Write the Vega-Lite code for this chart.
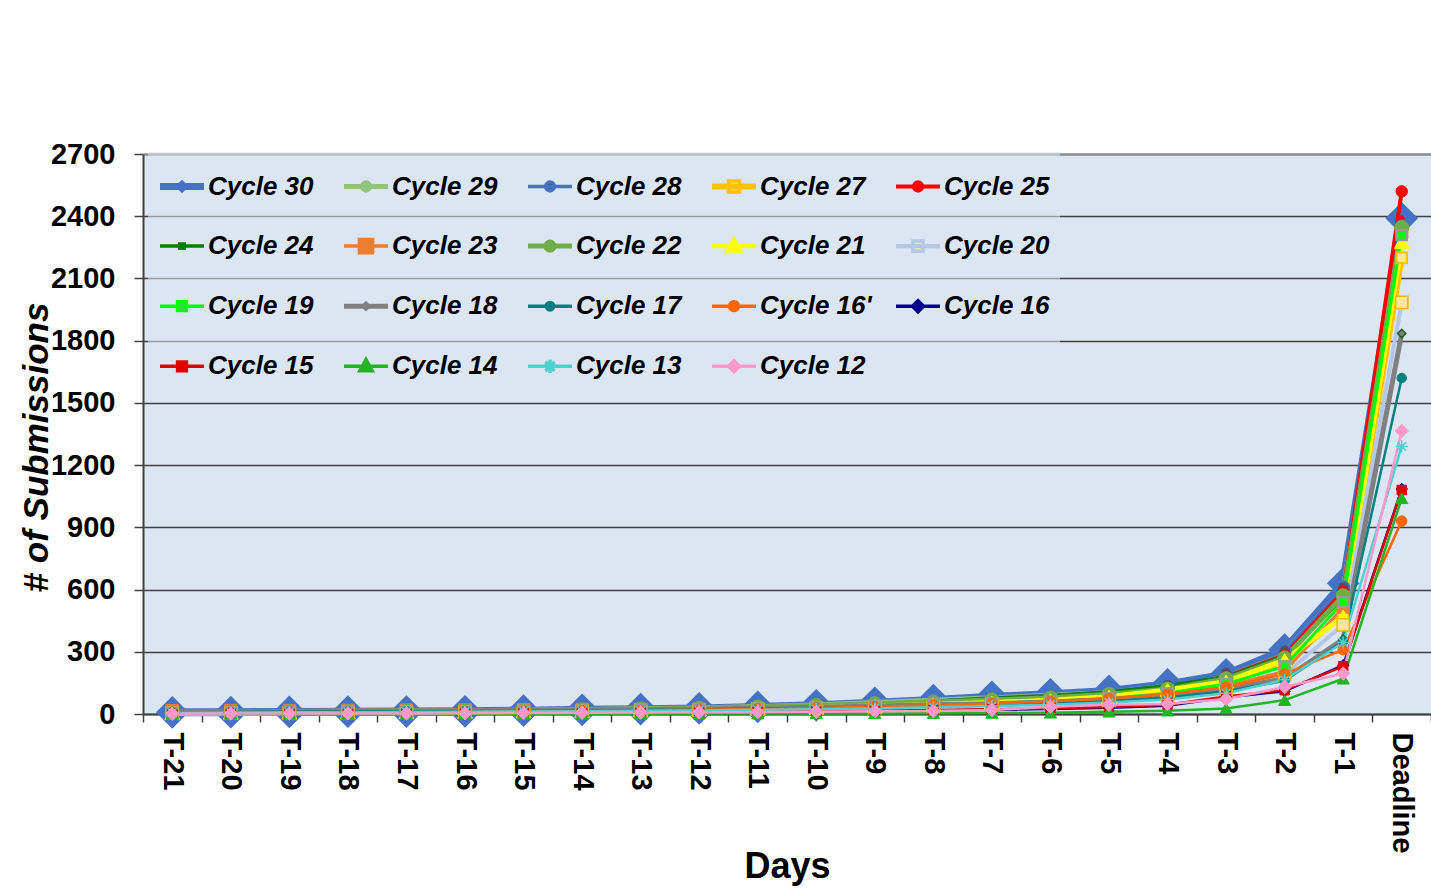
{
  "$schema": "https://vega.github.io/schema/vega-lite/v6.json",
  "width": 1288,
  "height": 560,
  "autosize": {"type": "none"},
  "padding": {"left": 143, "top": 154, "right": 0, "bottom": 176},
  "background": "white",
  "config": {
    "view": {"fill": "#DCE6F2", "stroke": null},
    "font": "Liberation Sans"
  },
  "data": {"values": [
    {"s":"Cycle 30","t":-21,"v":8},{"s":"Cycle 30","t":-20,"v":9},{"s":"Cycle 30","t":-19,"v":10},{"s":"Cycle 30","t":-18,"v":11},{"s":"Cycle 30","t":-17,"v":12},{"s":"Cycle 30","t":-16,"v":13},{"s":"Cycle 30","t":-15,"v":16},{"s":"Cycle 30","t":-14,"v":20},{"s":"Cycle 30","t":-13,"v":23},{"s":"Cycle 30","t":-12,"v":27},{"s":"Cycle 30","t":-11,"v":34},{"s":"Cycle 30","t":-10,"v":42},{"s":"Cycle 30","t":-9,"v":54},{"s":"Cycle 30","t":-8,"v":67},{"s":"Cycle 30","t":-7,"v":83},{"s":"Cycle 30","t":-6,"v":95},{"s":"Cycle 30","t":-5,"v":111},{"s":"Cycle 30","t":-4,"v":143},{"s":"Cycle 30","t":-3,"v":191},{"s":"Cycle 30","t":-2,"v":310},{"s":"Cycle 30","t":-1,"v":630},{"s":"Cycle 30","t":0,"v":2390},
    {"s":"Cycle 29","t":-21,"v":10},{"s":"Cycle 29","t":-20,"v":11},{"s":"Cycle 29","t":-19,"v":12},{"s":"Cycle 29","t":-18,"v":13},{"s":"Cycle 29","t":-17,"v":14},{"s":"Cycle 29","t":-16,"v":16},{"s":"Cycle 29","t":-15,"v":18},{"s":"Cycle 29","t":-14,"v":22},{"s":"Cycle 29","t":-13,"v":25},{"s":"Cycle 29","t":-12,"v":29},{"s":"Cycle 29","t":-11,"v":36},{"s":"Cycle 29","t":-10,"v":44},{"s":"Cycle 29","t":-9,"v":56},{"s":"Cycle 29","t":-8,"v":66},{"s":"Cycle 29","t":-7,"v":78},{"s":"Cycle 29","t":-6,"v":90},{"s":"Cycle 29","t":-5,"v":104},{"s":"Cycle 29","t":-4,"v":135},{"s":"Cycle 29","t":-3,"v":185},{"s":"Cycle 29","t":-2,"v":300},{"s":"Cycle 29","t":-1,"v":600},{"s":"Cycle 29","t":0,"v":2340},
    {"s":"Cycle 28","t":-21,"v":7},{"s":"Cycle 28","t":-20,"v":8},{"s":"Cycle 28","t":-19,"v":9},{"s":"Cycle 28","t":-18,"v":10},{"s":"Cycle 28","t":-17,"v":11},{"s":"Cycle 28","t":-16,"v":12},{"s":"Cycle 28","t":-15,"v":14},{"s":"Cycle 28","t":-14,"v":18},{"s":"Cycle 28","t":-13,"v":21},{"s":"Cycle 28","t":-12,"v":25},{"s":"Cycle 28","t":-11,"v":31},{"s":"Cycle 28","t":-10,"v":39},{"s":"Cycle 28","t":-9,"v":50},{"s":"Cycle 28","t":-8,"v":63},{"s":"Cycle 28","t":-7,"v":79},{"s":"Cycle 28","t":-6,"v":91},{"s":"Cycle 28","t":-5,"v":107},{"s":"Cycle 28","t":-4,"v":140},{"s":"Cycle 28","t":-3,"v":200},{"s":"Cycle 28","t":-2,"v":305},{"s":"Cycle 28","t":-1,"v":610},{"s":"Cycle 28","t":0,"v":2350},
    {"s":"Cycle 27","t":-21,"v":5},{"s":"Cycle 27","t":-20,"v":6},{"s":"Cycle 27","t":-19,"v":7},{"s":"Cycle 27","t":-18,"v":8},{"s":"Cycle 27","t":-17,"v":9},{"s":"Cycle 27","t":-16,"v":10},{"s":"Cycle 27","t":-15,"v":12},{"s":"Cycle 27","t":-14,"v":14},{"s":"Cycle 27","t":-13,"v":17},{"s":"Cycle 27","t":-12,"v":20},{"s":"Cycle 27","t":-11,"v":25},{"s":"Cycle 27","t":-10,"v":30},{"s":"Cycle 27","t":-9,"v":37},{"s":"Cycle 27","t":-8,"v":45},{"s":"Cycle 27","t":-7,"v":55},{"s":"Cycle 27","t":-6,"v":65},{"s":"Cycle 27","t":-5,"v":80},{"s":"Cycle 27","t":-4,"v":105},{"s":"Cycle 27","t":-3,"v":150},{"s":"Cycle 27","t":-2,"v":245},{"s":"Cycle 27","t":-1,"v":480},{"s":"Cycle 27","t":0,"v":2200},
    {"s":"Cycle 25","t":-21,"v":6},{"s":"Cycle 25","t":-20,"v":7},{"s":"Cycle 25","t":-19,"v":8},{"s":"Cycle 25","t":-18,"v":9},{"s":"Cycle 25","t":-17,"v":10},{"s":"Cycle 25","t":-16,"v":11},{"s":"Cycle 25","t":-15,"v":13},{"s":"Cycle 25","t":-14,"v":16},{"s":"Cycle 25","t":-13,"v":19},{"s":"Cycle 25","t":-12,"v":23},{"s":"Cycle 25","t":-11,"v":28},{"s":"Cycle 25","t":-10,"v":35},{"s":"Cycle 25","t":-9,"v":44},{"s":"Cycle 25","t":-8,"v":55},{"s":"Cycle 25","t":-7,"v":68},{"s":"Cycle 25","t":-6,"v":80},{"s":"Cycle 25","t":-5,"v":95},{"s":"Cycle 25","t":-4,"v":125},{"s":"Cycle 25","t":-3,"v":180},{"s":"Cycle 25","t":-2,"v":285},{"s":"Cycle 25","t":-1,"v":590},{"s":"Cycle 25","t":0,"v":2520},
    {"s":"Cycle 24","t":-21,"v":9},{"s":"Cycle 24","t":-20,"v":10},{"s":"Cycle 24","t":-19,"v":11},{"s":"Cycle 24","t":-18,"v":12},{"s":"Cycle 24","t":-17,"v":13},{"s":"Cycle 24","t":-16,"v":14},{"s":"Cycle 24","t":-15,"v":16},{"s":"Cycle 24","t":-14,"v":19},{"s":"Cycle 24","t":-13,"v":22},{"s":"Cycle 24","t":-12,"v":26},{"s":"Cycle 24","t":-11,"v":31},{"s":"Cycle 24","t":-10,"v":38},{"s":"Cycle 24","t":-9,"v":47},{"s":"Cycle 24","t":-8,"v":60},{"s":"Cycle 24","t":-7,"v":74},{"s":"Cycle 24","t":-6,"v":87},{"s":"Cycle 24","t":-5,"v":105},{"s":"Cycle 24","t":-4,"v":135},{"s":"Cycle 24","t":-3,"v":178},{"s":"Cycle 24","t":-2,"v":280},{"s":"Cycle 24","t":-1,"v":560},{"s":"Cycle 24","t":0,"v":2300},
    {"s":"Cycle 23","t":-21,"v":16},{"s":"Cycle 23","t":-20,"v":17},{"s":"Cycle 23","t":-19,"v":17},{"s":"Cycle 23","t":-18,"v":18},{"s":"Cycle 23","t":-17,"v":19},{"s":"Cycle 23","t":-16,"v":20},{"s":"Cycle 23","t":-15,"v":21},{"s":"Cycle 23","t":-14,"v":22},{"s":"Cycle 23","t":-13,"v":23},{"s":"Cycle 23","t":-12,"v":24},{"s":"Cycle 23","t":-11,"v":26},{"s":"Cycle 23","t":-10,"v":28},{"s":"Cycle 23","t":-9,"v":31},{"s":"Cycle 23","t":-8,"v":35},{"s":"Cycle 23","t":-7,"v":42},{"s":"Cycle 23","t":-6,"v":52},{"s":"Cycle 23","t":-5,"v":66},{"s":"Cycle 23","t":-4,"v":92},{"s":"Cycle 23","t":-3,"v":135},{"s":"Cycle 23","t":-2,"v":205},{"s":"Cycle 23","t":-1,"v":515},{"s":"Cycle 23","t":0,"v":2320},
    {"s":"Cycle 22","t":-21,"v":8},{"s":"Cycle 22","t":-20,"v":9},{"s":"Cycle 22","t":-19,"v":10},{"s":"Cycle 22","t":-18,"v":11},{"s":"Cycle 22","t":-17,"v":13},{"s":"Cycle 22","t":-16,"v":15},{"s":"Cycle 22","t":-15,"v":17},{"s":"Cycle 22","t":-14,"v":20},{"s":"Cycle 22","t":-13,"v":24},{"s":"Cycle 22","t":-12,"v":28},{"s":"Cycle 22","t":-11,"v":34},{"s":"Cycle 22","t":-10,"v":41},{"s":"Cycle 22","t":-9,"v":49},{"s":"Cycle 22","t":-8,"v":58},{"s":"Cycle 22","t":-7,"v":68},{"s":"Cycle 22","t":-6,"v":78},{"s":"Cycle 22","t":-5,"v":95},{"s":"Cycle 22","t":-4,"v":120},{"s":"Cycle 22","t":-3,"v":170},{"s":"Cycle 22","t":-2,"v":270},{"s":"Cycle 22","t":-1,"v":570},{"s":"Cycle 22","t":0,"v":2345},
    {"s":"Cycle 21","t":-21,"v":5},{"s":"Cycle 21","t":-20,"v":6},{"s":"Cycle 21","t":-19,"v":7},{"s":"Cycle 21","t":-18,"v":8},{"s":"Cycle 21","t":-17,"v":9},{"s":"Cycle 21","t":-16,"v":11},{"s":"Cycle 21","t":-15,"v":13},{"s":"Cycle 21","t":-14,"v":15},{"s":"Cycle 21","t":-13,"v":18},{"s":"Cycle 21","t":-12,"v":22},{"s":"Cycle 21","t":-11,"v":26},{"s":"Cycle 21","t":-10,"v":31},{"s":"Cycle 21","t":-9,"v":38},{"s":"Cycle 21","t":-8,"v":46},{"s":"Cycle 21","t":-7,"v":55},{"s":"Cycle 21","t":-6,"v":66},{"s":"Cycle 21","t":-5,"v":83},{"s":"Cycle 21","t":-4,"v":116},{"s":"Cycle 21","t":-3,"v":156},{"s":"Cycle 21","t":-2,"v":260},{"s":"Cycle 21","t":-1,"v":470},{"s":"Cycle 21","t":0,"v":2275},
    {"s":"Cycle 20","t":-21,"v":4},{"s":"Cycle 20","t":-20,"v":5},{"s":"Cycle 20","t":-19,"v":6},{"s":"Cycle 20","t":-18,"v":7},{"s":"Cycle 20","t":-17,"v":8},{"s":"Cycle 20","t":-16,"v":9},{"s":"Cycle 20","t":-15,"v":11},{"s":"Cycle 20","t":-14,"v":13},{"s":"Cycle 20","t":-13,"v":16},{"s":"Cycle 20","t":-12,"v":19},{"s":"Cycle 20","t":-11,"v":23},{"s":"Cycle 20","t":-10,"v":27},{"s":"Cycle 20","t":-9,"v":32},{"s":"Cycle 20","t":-8,"v":38},{"s":"Cycle 20","t":-7,"v":45},{"s":"Cycle 20","t":-6,"v":52},{"s":"Cycle 20","t":-5,"v":65},{"s":"Cycle 20","t":-4,"v":85},{"s":"Cycle 20","t":-3,"v":120},{"s":"Cycle 20","t":-2,"v":190},{"s":"Cycle 20","t":-1,"v":430},{"s":"Cycle 20","t":0,"v":1985},
    {"s":"Cycle 19","t":-21,"v":6},{"s":"Cycle 19","t":-20,"v":7},{"s":"Cycle 19","t":-19,"v":8},{"s":"Cycle 19","t":-18,"v":9},{"s":"Cycle 19","t":-17,"v":10},{"s":"Cycle 19","t":-16,"v":12},{"s":"Cycle 19","t":-15,"v":14},{"s":"Cycle 19","t":-14,"v":16},{"s":"Cycle 19","t":-13,"v":19},{"s":"Cycle 19","t":-12,"v":23},{"s":"Cycle 19","t":-11,"v":27},{"s":"Cycle 19","t":-10,"v":32},{"s":"Cycle 19","t":-9,"v":38},{"s":"Cycle 19","t":-8,"v":45},{"s":"Cycle 19","t":-7,"v":52},{"s":"Cycle 19","t":-6,"v":60},{"s":"Cycle 19","t":-5,"v":75},{"s":"Cycle 19","t":-4,"v":100},{"s":"Cycle 19","t":-3,"v":145},{"s":"Cycle 19","t":-2,"v":230},{"s":"Cycle 19","t":-1,"v":540},{"s":"Cycle 19","t":0,"v":2310},
    {"s":"Cycle 18","t":-21,"v":12},{"s":"Cycle 18","t":-20,"v":13},{"s":"Cycle 18","t":-19,"v":13},{"s":"Cycle 18","t":-18,"v":14},{"s":"Cycle 18","t":-17,"v":15},{"s":"Cycle 18","t":-16,"v":16},{"s":"Cycle 18","t":-15,"v":17},{"s":"Cycle 18","t":-14,"v":19},{"s":"Cycle 18","t":-13,"v":21},{"s":"Cycle 18","t":-12,"v":24},{"s":"Cycle 18","t":-11,"v":28},{"s":"Cycle 18","t":-10,"v":33},{"s":"Cycle 18","t":-9,"v":38},{"s":"Cycle 18","t":-8,"v":44},{"s":"Cycle 18","t":-7,"v":50},{"s":"Cycle 18","t":-6,"v":58},{"s":"Cycle 18","t":-5,"v":70},{"s":"Cycle 18","t":-4,"v":90},{"s":"Cycle 18","t":-3,"v":120},{"s":"Cycle 18","t":-2,"v":170},{"s":"Cycle 18","t":-1,"v":360},{"s":"Cycle 18","t":0,"v":1835},
    {"s":"Cycle 17","t":-21,"v":9},{"s":"Cycle 17","t":-20,"v":10},{"s":"Cycle 17","t":-19,"v":11},{"s":"Cycle 17","t":-18,"v":12},{"s":"Cycle 17","t":-17,"v":13},{"s":"Cycle 17","t":-16,"v":14},{"s":"Cycle 17","t":-15,"v":15},{"s":"Cycle 17","t":-14,"v":17},{"s":"Cycle 17","t":-13,"v":19},{"s":"Cycle 17","t":-12,"v":22},{"s":"Cycle 17","t":-11,"v":26},{"s":"Cycle 17","t":-10,"v":30},{"s":"Cycle 17","t":-9,"v":35},{"s":"Cycle 17","t":-8,"v":40},{"s":"Cycle 17","t":-7,"v":46},{"s":"Cycle 17","t":-6,"v":52},{"s":"Cycle 17","t":-5,"v":62},{"s":"Cycle 17","t":-4,"v":80},{"s":"Cycle 17","t":-3,"v":110},{"s":"Cycle 17","t":-2,"v":160},{"s":"Cycle 17","t":-1,"v":350},{"s":"Cycle 17","t":0,"v":1620},
    {"s":"Cycle 16'","t":-21,"v":4},{"s":"Cycle 16'","t":-20,"v":5},{"s":"Cycle 16'","t":-19,"v":6},{"s":"Cycle 16'","t":-18,"v":7},{"s":"Cycle 16'","t":-17,"v":8},{"s":"Cycle 16'","t":-16,"v":10},{"s":"Cycle 16'","t":-15,"v":12},{"s":"Cycle 16'","t":-14,"v":14},{"s":"Cycle 16'","t":-13,"v":17},{"s":"Cycle 16'","t":-12,"v":20},{"s":"Cycle 16'","t":-11,"v":24},{"s":"Cycle 16'","t":-10,"v":29},{"s":"Cycle 16'","t":-9,"v":35},{"s":"Cycle 16'","t":-8,"v":42},{"s":"Cycle 16'","t":-7,"v":50},{"s":"Cycle 16'","t":-6,"v":60},{"s":"Cycle 16'","t":-5,"v":75},{"s":"Cycle 16'","t":-4,"v":95},{"s":"Cycle 16'","t":-3,"v":129},{"s":"Cycle 16'","t":-2,"v":193},{"s":"Cycle 16'","t":-1,"v":310},{"s":"Cycle 16'","t":0,"v":930},
    {"s":"Cycle 16","t":-21,"v":1},{"s":"Cycle 16","t":-20,"v":2},{"s":"Cycle 16","t":-19,"v":2},{"s":"Cycle 16","t":-18,"v":3},{"s":"Cycle 16","t":-17,"v":3},{"s":"Cycle 16","t":-16,"v":4},{"s":"Cycle 16","t":-15,"v":5},{"s":"Cycle 16","t":-14,"v":6},{"s":"Cycle 16","t":-13,"v":7},{"s":"Cycle 16","t":-12,"v":8},{"s":"Cycle 16","t":-11,"v":10},{"s":"Cycle 16","t":-10,"v":12},{"s":"Cycle 16","t":-9,"v":14},{"s":"Cycle 16","t":-8,"v":17},{"s":"Cycle 16","t":-7,"v":20},{"s":"Cycle 16","t":-6,"v":24},{"s":"Cycle 16","t":-5,"v":30},{"s":"Cycle 16","t":-4,"v":40},{"s":"Cycle 16","t":-3,"v":80},{"s":"Cycle 16","t":-2,"v":110},{"s":"Cycle 16","t":-1,"v":235},{"s":"Cycle 16","t":0,"v":1085},
    {"s":"Cycle 15","t":-21,"v":1},{"s":"Cycle 15","t":-20,"v":2},{"s":"Cycle 15","t":-19,"v":2},{"s":"Cycle 15","t":-18,"v":3},{"s":"Cycle 15","t":-17,"v":4},{"s":"Cycle 15","t":-16,"v":5},{"s":"Cycle 15","t":-15,"v":6},{"s":"Cycle 15","t":-14,"v":7},{"s":"Cycle 15","t":-13,"v":8},{"s":"Cycle 15","t":-12,"v":9},{"s":"Cycle 15","t":-11,"v":11},{"s":"Cycle 15","t":-10,"v":13},{"s":"Cycle 15","t":-9,"v":16},{"s":"Cycle 15","t":-8,"v":19},{"s":"Cycle 15","t":-7,"v":23},{"s":"Cycle 15","t":-6,"v":28},{"s":"Cycle 15","t":-5,"v":34},{"s":"Cycle 15","t":-4,"v":45},{"s":"Cycle 15","t":-3,"v":85},{"s":"Cycle 15","t":-2,"v":115},{"s":"Cycle 15","t":-1,"v":230},{"s":"Cycle 15","t":0,"v":1080},
    {"s":"Cycle 14","t":-21,"v":0},{"s":"Cycle 14","t":-20,"v":0},{"s":"Cycle 14","t":-19,"v":0},{"s":"Cycle 14","t":-18,"v":0},{"s":"Cycle 14","t":-17,"v":0},{"s":"Cycle 14","t":-16,"v":1},{"s":"Cycle 14","t":-15,"v":1},{"s":"Cycle 14","t":-14,"v":1},{"s":"Cycle 14","t":-13,"v":1},{"s":"Cycle 14","t":-12,"v":2},{"s":"Cycle 14","t":-11,"v":2},{"s":"Cycle 14","t":-10,"v":3},{"s":"Cycle 14","t":-9,"v":3},{"s":"Cycle 14","t":-8,"v":4},{"s":"Cycle 14","t":-7,"v":5},{"s":"Cycle 14","t":-6,"v":6},{"s":"Cycle 14","t":-5,"v":11},{"s":"Cycle 14","t":-4,"v":16},{"s":"Cycle 14","t":-3,"v":27},{"s":"Cycle 14","t":-2,"v":67},{"s":"Cycle 14","t":-1,"v":170},{"s":"Cycle 14","t":0,"v":1040},
    {"s":"Cycle 13","t":-21,"v":6},{"s":"Cycle 13","t":-20,"v":7},{"s":"Cycle 13","t":-19,"v":8},{"s":"Cycle 13","t":-18,"v":9},{"s":"Cycle 13","t":-17,"v":10},{"s":"Cycle 13","t":-16,"v":11},{"s":"Cycle 13","t":-15,"v":12},{"s":"Cycle 13","t":-14,"v":13},{"s":"Cycle 13","t":-13,"v":15},{"s":"Cycle 13","t":-12,"v":17},{"s":"Cycle 13","t":-11,"v":20},{"s":"Cycle 13","t":-10,"v":23},{"s":"Cycle 13","t":-9,"v":27},{"s":"Cycle 13","t":-8,"v":32},{"s":"Cycle 13","t":-7,"v":38},{"s":"Cycle 13","t":-6,"v":45},{"s":"Cycle 13","t":-5,"v":55},{"s":"Cycle 13","t":-4,"v":70},{"s":"Cycle 13","t":-3,"v":100},{"s":"Cycle 13","t":-2,"v":165},{"s":"Cycle 13","t":-1,"v":345},{"s":"Cycle 13","t":0,"v":1290},
    {"s":"Cycle 12","t":-21,"v":1},{"s":"Cycle 12","t":-20,"v":2},{"s":"Cycle 12","t":-19,"v":2},{"s":"Cycle 12","t":-18,"v":3},{"s":"Cycle 12","t":-17,"v":3},{"s":"Cycle 12","t":-16,"v":4},{"s":"Cycle 12","t":-15,"v":5},{"s":"Cycle 12","t":-14,"v":6},{"s":"Cycle 12","t":-13,"v":7},{"s":"Cycle 12","t":-12,"v":8},{"s":"Cycle 12","t":-11,"v":9},{"s":"Cycle 12","t":-10,"v":11},{"s":"Cycle 12","t":-9,"v":13},{"s":"Cycle 12","t":-8,"v":14},{"s":"Cycle 12","t":-7,"v":19},{"s":"Cycle 12","t":-6,"v":35},{"s":"Cycle 12","t":-5,"v":45},{"s":"Cycle 12","t":-4,"v":48},{"s":"Cycle 12","t":-3,"v":72},{"s":"Cycle 12","t":-2,"v":130},{"s":"Cycle 12","t":-1,"v":195},{"s":"Cycle 12","t":0,"v":1365}
  ]},
  "encoding": {
    "x": {
      "field": "t", "type": "ordinal", "bandPosition": 0.5,
      "scale": {"type": "band", "paddingInner": 0, "paddingOuter": 0},
      "axis": {
        "title": "Days", "titleFont": "Liberation Sans", "titleFontSize": 36, "titleFontWeight": "bold", "titleColor": "#000000",
        "titleX": 644, "titleY": 152, "titleAlign": "center", "titleBaseline": "middle",
        "labelExpr": "isValid(datum.value) ? (datum.value === 0 ? 'Deadline' : 'T' + datum.value) : ''",
        "labelAngle": 90, "labelFont": "Liberation Sans", "labelFontSize": 29, "labelFontWeight": "bold", "labelColor": "#000000",
        "labelPadding": 10, "labelOverlap": false,
        "tickBand": "extent", "tickSize": 8, "tickWidth": 1.5, "tickColor": "#404040",
        "domainColor": "#404040", "domainWidth": 2, "grid": false
      }
    },
    "y": {
      "field": "v", "type": "quantitative",
      "scale": {"domain": [0, 2700], "nice": false},
      "axis": {
        "title": "# of Submissions", "titleFont": "Liberation Sans", "titleFontSize": 35, "titleFontWeight": "bold", "titleFontStyle": "italic", "titleColor": "#000000",
        "titleAngle": -90, "titleX": -107, "titleY": 293, "titleAlign": "center", "titleBaseline": "middle",
        "values": [0, 300, 600, 900, 1200, 1500, 1800, 2100, 2400, 2700], "format": "d",
        "labelFont": "Liberation Sans", "labelFontSize": 29, "labelFontWeight": "bold", "labelColor": "#000000", "labelPadding": 19,
        "tickSize": 9, "tickWidth": 1.5, "tickColor": "#404040",
        "domainColor": "#404040", "domainWidth": 2,
        "grid": true, "gridColor": {"condition": {"test": "datum.value === 2700", "value": "#8C8C8C"}, "value": "#404040"},
        "gridWidth": {"condition": {"test": "datum.value === 2700", "value": 2.5}, "value": 1.3}
      }
    }
  },
  "layer": [
    {
      "transform": [{"filter": "datum.s === 'Cycle 30'"}],
      "mark": {"type": "line", "strokeJoin": "round", "strokeCap": "round"},
      "encoding": {
        "color": {"field": "s", "type": "nominal",
          "scale": {"domain": ["Cycle 30","Cycle 29","Cycle 28","Cycle 27","Cycle 25","Cycle 24","Cycle 23","Cycle 22","Cycle 21","Cycle 20","Cycle 19","Cycle 18","Cycle 17","Cycle 16'","Cycle 16","Cycle 15","Cycle 14","Cycle 13","Cycle 12"],
                    "range": ["#4472C4","#93C47D","#4472C4","#FFC000","#FF0000","#008000","#ED7D31","#70AD47","#FFFF00","#B4C7E7","#00FF00","#808080","#008080","#FF6600","#000090","#E00000","#22B422","#4FD0D0","#FF99CC"]},
          "legend": {
            "orient": "none", "legendX": 5, "legendY": -2, "direction": "horizontal", "columns": 5, "gridAlign": "all",
            "columnPadding": 17, "rowPadding": 22.1, "padding": 10,
            "fillColor": "rgba(220,230,242,0.55)", "strokeColor": null, "title": null,
            "labelFont": "Liberation Sans", "labelFontSize": 26, "labelFontWeight": "bold", "labelFontStyle": "italic", "labelColor": "#000000",
            "labelOffset": 2, "labelLimit": 300, "symbolSize": 1936, "symbolType": "M-1,0H1", "symbolStrokeWidth": 3.5,
            "encode": {"symbols": {
              "update": {
              "shape": {"signal": "['M-1,-0.08H1M-1,0.08H1M-0.2,0L0,-0.2L0.2,0L0,0.2Z','M-1,-0.035H1M-1,0.035H1M-0.2,0A0.2,0.2,0,1,0,0.2,0A0.2,0.2,0,1,0,-0.2,0Z','M-1,0H1M-0.2,0A0.2,0.2,0,1,0,0.2,0A0.2,0.2,0,1,0,-0.2,0Z','M-1,-0.06H1M-1,0.06H1M-0.25,-0.25H0.25V0.25H-0.25Z','M-1,-0.015H1M-1,0.015H1M-0.2,0A0.2,0.2,0,1,0,0.2,0A0.2,0.2,0,1,0,-0.2,0Z','M-1,0H1M-0.1,-0.1H0.1V0.1H-0.1Z','M-1,0H1M-0.3,-0.3H0.3V0.3H-0.3Z','M-1,-0.035H1M-1,0.035H1M-0.22,0A0.22,0.22,0,1,0,0.22,0A0.22,0.22,0,1,0,-0.22,0Z','M-1,-0.015H1M-1,0.015H1M0,-0.32L0.3,0.22L-0.3,0.22Z','M-1,-0.015H1M-1,0.015H1M-0.23,-0.23H0.23V0.23H-0.23Z','M-1,0H1M-0.2,-0.2H0.2V0.2H-0.2Z','M-1,-0.035H1M-1,0.035H1M-0.13,0L0,-0.13L0.13,0L0,0.13Z','M-1,0H1M-0.17,0A0.17,0.17,0,1,0,0.17,0A0.17,0.17,0,1,0,-0.17,0Z','M-1,0H1M-0.2,0A0.2,0.2,0,1,0,0.2,0A0.2,0.2,0,1,0,-0.2,0Z','M-1,0H1M-0.25,0L0,-0.25L0.25,0L0,0.25Z','M-1,0H1M-0.2,-0.2H0.2V0.2H-0.2Z','M-1,0H1M0,-0.3L0.28,0.2L-0.28,0.2Z','M-1,0H1M0,-0.3V0.3M-0.21,-0.21L0.21,0.21M-0.21,0.21L0.21,-0.21','M-1,0H1M-0.25,0L0,-0.25L0.25,0L0,0.25Z'][datum.index]"},
              "fill": {"signal": "['#FF0000','#93C47D','#44546A','#FFE699','#FF0000','#006400','#ED7D31','#70AD47','#FFFF00','#FFE699','#999999','#2E7D32','#008080','#FF6600','#000090','#E00000','#22B422','transparent','#FF99CC'][datum.index]"},
              "stroke": {"signal": "['#4472C4','#93C47D','#4472C4','#FFC000','#FF0000','#008000','#ED7D31','#70AD47','#FFFF00','#B4C7E7','#00FF00','#808080','#008080','#FF6600','#000090','#E00000','#22B422','#4FD0D0','#FF99CC'][datum.index]"},
              "opacity": {"value": 1}, "fillOpacity": {"value": 1}, "strokeOpacity": {"value": 1}
            }}}
          }
        },
        "strokeWidth": {"field": "s", "type": "nominal", "legend": null,
          "scale": {"type": "ordinal", "domain": ["Cycle 12","Cycle 13","Cycle 14","Cycle 15","Cycle 16","Cycle 16'","Cycle 17","Cycle 18","Cycle 19","Cycle 20","Cycle 21","Cycle 22","Cycle 23","Cycle 24","Cycle 25","Cycle 27","Cycle 28","Cycle 29","Cycle 30"],
                    "range": [2.5,2.5,2.5,2.5,2.5,2.5,2.5,5,3,4,5,5,3,4,4,6,3,5,8]}}
      }
    },
    {
      "transform": [{"filter": "datum.s === 'Cycle 30'"}],
      "mark": {"type": "point", "filled": true, "opacity": 1},
      "encoding": {
        "shape": {"field": "s", "type": "nominal", "legend": null,
          "scale": {"domain": ["Cycle 12","Cycle 13","Cycle 14","Cycle 15","Cycle 16","Cycle 16'","Cycle 17","Cycle 18","Cycle 19","Cycle 20","Cycle 21","Cycle 22","Cycle 23","Cycle 24","Cycle 25","Cycle 27","Cycle 28","Cycle 29","Cycle 30"],
                    "range": ["diamond","M-1,0H1M0,-1V1M-0.7,-0.7L0.7,0.7M-0.7,0.7L0.7,-0.7","triangle-up","square","diamond","circle","circle","diamond","square","square","triangle-up","circle","square","square","circle","square","circle","circle","diamond"]}},
        "size": {"field": "s", "type": "nominal", "legend": null,
          "scale": {"type": "ordinal", "domain": ["Cycle 12","Cycle 13","Cycle 14","Cycle 15","Cycle 16","Cycle 16'","Cycle 17","Cycle 18","Cycle 19","Cycle 20","Cycle 21","Cycle 22","Cycle 23","Cycle 24","Cycle 25","Cycle 27","Cycle 28","Cycle 29","Cycle 30"],
                    "range": [180,150,150,90,130,110,90,70,100,150,220,200,150,30,130,110,150,120,400]}},
        "fill": {"field": "s", "type": "nominal", "legend": null,
          "scale": {"domain": ["Cycle 12","Cycle 13","Cycle 14","Cycle 15","Cycle 16","Cycle 16'","Cycle 17","Cycle 18","Cycle 19","Cycle 20","Cycle 21","Cycle 22","Cycle 23","Cycle 24","Cycle 25","Cycle 27","Cycle 28","Cycle 29","Cycle 30"],
                    "range": ["#FF99CC","transparent","#22B422","#E00000","#000090","#FF6600","#008080","#808080","#00FF00","#FFE699","#FFFF00","#70AD47","#ED7D31","#006400","#FF0000","#FFE699","#44546A","#93C47D","#FF0000"]}},
        "stroke": {"field": "s", "type": "nominal", "legend": null,
          "scale": {"domain": ["Cycle 12","Cycle 13","Cycle 14","Cycle 15","Cycle 16","Cycle 16'","Cycle 17","Cycle 18","Cycle 19","Cycle 20","Cycle 21","Cycle 22","Cycle 23","Cycle 24","Cycle 25","Cycle 27","Cycle 28","Cycle 29","Cycle 30"],
                    "range": ["#FF99CC","#4FD0D0","#22B422","#E00000","#000090","#FF6600","#008080","#1E5E1E","#999999","#F4B400","#FFFF00","#70AD47","#ED7D31","#008000","#FF0000","#FFC000","#4472C4","#93C47D","#4472C4"]}},
        "strokeWidth": {"field": "s", "type": "nominal", "legend": null,
          "scale": {"type": "ordinal", "domain": ["Cycle 12","Cycle 13","Cycle 14","Cycle 15","Cycle 16","Cycle 16'","Cycle 17","Cycle 18","Cycle 19","Cycle 20","Cycle 21","Cycle 22","Cycle 23","Cycle 24","Cycle 25","Cycle 27","Cycle 28","Cycle 29","Cycle 30"],
                    "range": [1,1.5,1,1,1,1,1,1.5,2.5,1.5,1,1,1,1,1,2,2,1,9]}}
      }
    },
    {
      "transform": [{"filter": "datum.s !== 'Cycle 30'"}],
      "mark": {"type": "line", "strokeJoin": "round", "strokeCap": "round"},
      "encoding": {
        "color": {"field": "s", "type": "nominal",
          "scale": {"domain": ["Cycle 30","Cycle 29","Cycle 28","Cycle 27","Cycle 25","Cycle 24","Cycle 23","Cycle 22","Cycle 21","Cycle 20","Cycle 19","Cycle 18","Cycle 17","Cycle 16'","Cycle 16","Cycle 15","Cycle 14","Cycle 13","Cycle 12"],
                    "range": ["#4472C4","#93C47D","#4472C4","#FFC000","#FF0000","#008000","#ED7D31","#70AD47","#FFFF00","#B4C7E7","#00FF00","#808080","#008080","#FF6600","#000090","#E00000","#22B422","#4FD0D0","#FF99CC"]},
          "legend": {
            "orient": "none", "legendX": 5, "legendY": -2, "direction": "horizontal", "columns": 5, "gridAlign": "all",
            "columnPadding": 17, "rowPadding": 22.1, "padding": 10,
            "fillColor": "rgba(220,230,242,0.55)", "strokeColor": null, "title": null,
            "labelFont": "Liberation Sans", "labelFontSize": 26, "labelFontWeight": "bold", "labelFontStyle": "italic", "labelColor": "#000000",
            "labelOffset": 2, "labelLimit": 300, "symbolSize": 1936, "symbolType": "M-1,0H1", "symbolStrokeWidth": 3.5,
            "encode": {"symbols": {
              "update": {
              "shape": {"signal": "['M-1,-0.08H1M-1,0.08H1M-0.2,0L0,-0.2L0.2,0L0,0.2Z','M-1,-0.035H1M-1,0.035H1M-0.2,0A0.2,0.2,0,1,0,0.2,0A0.2,0.2,0,1,0,-0.2,0Z','M-1,0H1M-0.2,0A0.2,0.2,0,1,0,0.2,0A0.2,0.2,0,1,0,-0.2,0Z','M-1,-0.06H1M-1,0.06H1M-0.25,-0.25H0.25V0.25H-0.25Z','M-1,-0.015H1M-1,0.015H1M-0.2,0A0.2,0.2,0,1,0,0.2,0A0.2,0.2,0,1,0,-0.2,0Z','M-1,0H1M-0.1,-0.1H0.1V0.1H-0.1Z','M-1,0H1M-0.3,-0.3H0.3V0.3H-0.3Z','M-1,-0.035H1M-1,0.035H1M-0.22,0A0.22,0.22,0,1,0,0.22,0A0.22,0.22,0,1,0,-0.22,0Z','M-1,-0.015H1M-1,0.015H1M0,-0.32L0.3,0.22L-0.3,0.22Z','M-1,-0.015H1M-1,0.015H1M-0.23,-0.23H0.23V0.23H-0.23Z','M-1,0H1M-0.2,-0.2H0.2V0.2H-0.2Z','M-1,-0.035H1M-1,0.035H1M-0.13,0L0,-0.13L0.13,0L0,0.13Z','M-1,0H1M-0.17,0A0.17,0.17,0,1,0,0.17,0A0.17,0.17,0,1,0,-0.17,0Z','M-1,0H1M-0.2,0A0.2,0.2,0,1,0,0.2,0A0.2,0.2,0,1,0,-0.2,0Z','M-1,0H1M-0.25,0L0,-0.25L0.25,0L0,0.25Z','M-1,0H1M-0.2,-0.2H0.2V0.2H-0.2Z','M-1,0H1M0,-0.3L0.28,0.2L-0.28,0.2Z','M-1,0H1M0,-0.3V0.3M-0.21,-0.21L0.21,0.21M-0.21,0.21L0.21,-0.21','M-1,0H1M-0.25,0L0,-0.25L0.25,0L0,0.25Z'][datum.index]"},
              "fill": {"signal": "['#FF0000','#93C47D','#44546A','#FFE699','#FF0000','#006400','#ED7D31','#70AD47','#FFFF00','#FFE699','#999999','#2E7D32','#008080','#FF6600','#000090','#E00000','#22B422','transparent','#FF99CC'][datum.index]"},
              "stroke": {"signal": "['#4472C4','#93C47D','#4472C4','#FFC000','#FF0000','#008000','#ED7D31','#70AD47','#FFFF00','#B4C7E7','#00FF00','#808080','#008080','#FF6600','#000090','#E00000','#22B422','#4FD0D0','#FF99CC'][datum.index]"},
              "opacity": {"value": 1}, "fillOpacity": {"value": 1}, "strokeOpacity": {"value": 1}
            }}}
          }
        },
        "strokeWidth": {"field": "s", "type": "nominal", "legend": null,
          "scale": {"type": "ordinal", "domain": ["Cycle 12","Cycle 13","Cycle 14","Cycle 15","Cycle 16","Cycle 16'","Cycle 17","Cycle 18","Cycle 19","Cycle 20","Cycle 21","Cycle 22","Cycle 23","Cycle 24","Cycle 25","Cycle 27","Cycle 28","Cycle 29","Cycle 30"],
                    "range": [2.5,2.5,2.5,2.5,2.5,2.5,2.5,5,3,4,5,5,3,4,4,6,3,5,8]}}
      }
    },
    {
      "transform": [{"filter": "datum.s !== 'Cycle 30'"}],
      "mark": {"type": "point", "filled": true, "opacity": 1},
      "encoding": {
        "shape": {"field": "s", "type": "nominal", "legend": null,
          "scale": {"domain": ["Cycle 12","Cycle 13","Cycle 14","Cycle 15","Cycle 16","Cycle 16'","Cycle 17","Cycle 18","Cycle 19","Cycle 20","Cycle 21","Cycle 22","Cycle 23","Cycle 24","Cycle 25","Cycle 27","Cycle 28","Cycle 29","Cycle 30"],
                    "range": ["diamond","M-1,0H1M0,-1V1M-0.7,-0.7L0.7,0.7M-0.7,0.7L0.7,-0.7","triangle-up","square","diamond","circle","circle","diamond","square","square","triangle-up","circle","square","square","circle","square","circle","circle","diamond"]}},
        "size": {"field": "s", "type": "nominal", "legend": null,
          "scale": {"type": "ordinal", "domain": ["Cycle 12","Cycle 13","Cycle 14","Cycle 15","Cycle 16","Cycle 16'","Cycle 17","Cycle 18","Cycle 19","Cycle 20","Cycle 21","Cycle 22","Cycle 23","Cycle 24","Cycle 25","Cycle 27","Cycle 28","Cycle 29","Cycle 30"],
                    "range": [180,150,150,90,130,110,90,70,100,150,220,200,150,30,130,110,150,120,400]}},
        "fill": {"field": "s", "type": "nominal", "legend": null,
          "scale": {"domain": ["Cycle 12","Cycle 13","Cycle 14","Cycle 15","Cycle 16","Cycle 16'","Cycle 17","Cycle 18","Cycle 19","Cycle 20","Cycle 21","Cycle 22","Cycle 23","Cycle 24","Cycle 25","Cycle 27","Cycle 28","Cycle 29","Cycle 30"],
                    "range": ["#FF99CC","transparent","#22B422","#E00000","#000090","#FF6600","#008080","#808080","#00FF00","#FFE699","#FFFF00","#70AD47","#ED7D31","#006400","#FF0000","#FFE699","#44546A","#93C47D","#FF0000"]}},
        "stroke": {"field": "s", "type": "nominal", "legend": null,
          "scale": {"domain": ["Cycle 12","Cycle 13","Cycle 14","Cycle 15","Cycle 16","Cycle 16'","Cycle 17","Cycle 18","Cycle 19","Cycle 20","Cycle 21","Cycle 22","Cycle 23","Cycle 24","Cycle 25","Cycle 27","Cycle 28","Cycle 29","Cycle 30"],
                    "range": ["#FF99CC","#4FD0D0","#22B422","#E00000","#000090","#FF6600","#008080","#1E5E1E","#999999","#F4B400","#FFFF00","#70AD47","#ED7D31","#008000","#FF0000","#FFC000","#4472C4","#93C47D","#4472C4"]}},
        "strokeWidth": {"field": "s", "type": "nominal", "legend": null,
          "scale": {"type": "ordinal", "domain": ["Cycle 12","Cycle 13","Cycle 14","Cycle 15","Cycle 16","Cycle 16'","Cycle 17","Cycle 18","Cycle 19","Cycle 20","Cycle 21","Cycle 22","Cycle 23","Cycle 24","Cycle 25","Cycle 27","Cycle 28","Cycle 29","Cycle 30"],
                    "range": [1,1.5,1,1,1,1,1,1.5,2.5,1.5,1,1,1,1,1,2,2,1,9]}}
      }
    }
  ],
  "resolve": {"scale": {"strokeWidth": "independent"}}
}
